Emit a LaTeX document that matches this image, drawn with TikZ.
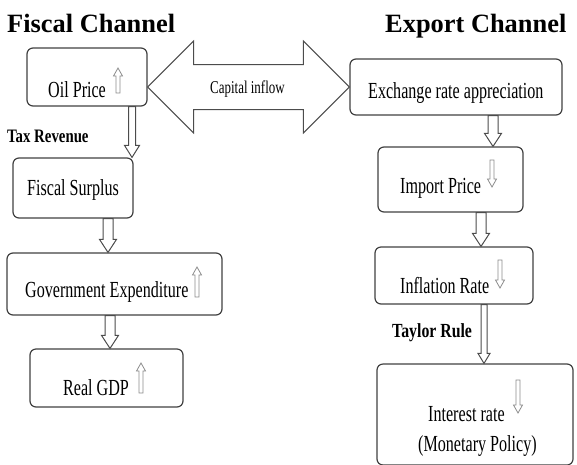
\documentclass[tikz,border=0pt]{standalone}
\usepackage{fontspec}
\setmainfont{Liberation Serif}
\usetikzlibrary{calc}
\newcommand{\bt}[1]{\fontsize{23}{27}\selectfont\scalebox{0.7}[1]{#1}}
\newcommand{\blockarrow}[5]{%
  \draw[blockar] let \p1=(#1), \p2=(#2) in
  (\x1-#3pt,\y1) -- (\x1+#3pt,\y1) -- (\x1+#3pt,\y2+#5pt) -- (\x1+#4pt,\y2+#5pt)
  -- (\x1,\y2) -- (\x1-#4pt,\y2+#5pt) -- (\x1-#3pt,\y2+#5pt) -- cycle;}
\newcommand{\upind}[3]{% x, ytop, ybottom
  \draw[indic] ({#1-2},#3) -- ({#1+2},#3) -- ({#1+2},{#2+8}) -- ({#1+4.5},{#2+8})
  -- (#1,#2) -- ({#1-4.5},{#2+8}) -- ({#1-2},{#2+8}) -- cycle;}
\newcommand{\downind}[3]{% x, ytop, ybottom
  \draw[indic] ({#1-2},#2) -- ({#1+2},#2) -- ({#1+2},{#3-8}) -- ({#1+4.5},{#3-8})
  -- (#1,#3) -- ({#1-4.5},{#3-8}) -- ({#1-2},{#3-8}) -- cycle;}
\tikzset{
  rbox/.style={draw=black!75, line width=1.2pt, rounded corners=6pt, inner sep=0pt},
  blockar/.style={draw=black!70, line width=1pt, fill=white, line join=miter},
  indic/.style={draw=black!45, line width=0.8pt, fill=white},
  lab/.style={anchor=base west, inner sep=0pt},
  head/.style={anchor=base west, inner sep=0pt, font=\fontsize{26.4}{30}\selectfont\bfseries},
}
\begin{document}
\begin{tikzpicture}[x=1pt,y=-1pt]
\useasboundingbox (0,0) rectangle (577,464);
\clip (0,0) rectangle (577,464);
% headings
\node[head] (hf) at (7,32) {Fiscal Channel};
\node[head] (he) at (385,32) {Export Channel};
% boxes
\node[rbox, minimum width=120pt, minimum height=58pt] (oil) at (87,77) {};
\node[rbox, minimum width=120pt, minimum height=60pt] (fiscal) at (73,188) {};
\node[rbox, minimum width=215pt, minimum height=62pt] (gov) at (114.5,284) {};
\node[rbox, minimum width=153pt, minimum height=58pt] (gdp) at (106.5,378) {};
\node[rbox, minimum width=212pt, minimum height=56pt] (exch) at (456,87) {};
\node[rbox, minimum width=145pt, minimum height=65pt] (imp) at (450.5,179.5) {};
\node[rbox, minimum width=158pt, minimum height=57pt] (infl) at (454,275.5) {};
\node[rbox, minimum width=196pt, minimum height=101pt] (intr) at (475,414.5) {};
% box texts
\node[lab] (toil) at (48,97) {\bt{Oil Price}};
\node[lab] (tfis) at (27,195) {\bt{Fiscal Surplus}};
\node[lab] (tgov) at (25,297) {\bt{Government Expenditure}};
\node[lab] (tgdp) at (63,395) {\bt{Real GDP}};
\node[lab] (texc) at (368,98) {\bt{Exchange rate appreciation}};
\node[lab] (timp) at (400,193) {\bt{Import Price}};
\node[lab] (tinf) at (400,293) {\bt{Inflation Rate}};
\node[lab] (tint) at (428,421) {\bt{Interest rate}};
\node[lab] (tmon) at (418,451) {\bt{(Monetary Policy)}};
% capital inflow double arrow
\draw[blockar] let \p1=(oil.east), \p2=(exch.west) in
  (\x1,\y2) -- (\x1+46pt,\y2+46pt) -- (\x1+46pt,\y2+22.5pt) -- (\x2-46pt,\y2+22.5pt)
  -- (\x2-46pt,\y2+46pt) -- (\x2,\y2) -- (\x2-46pt,\y2-46pt) -- (\x2-46pt,\y2-22.5pt)
  -- (\x1+46pt,\y2-22.5pt) -- (\x1+46pt,\y2-46pt) -- cycle;
\node[lab] (tcap) at (210,93) {\fontsize{18}{21}\selectfont\scalebox{0.72}[1]{Capital inflow}};
% connector x positions
\coordinate (a1) at (132,0);
\coordinate (a2) at (108,0);
\coordinate (a3) at (110,0);
\coordinate (b1) at (493,0);
\coordinate (b2) at (481,0);
\coordinate (b3) at (484,0);
\blockarrow{oil.south -| a1}{fiscal.north -| a1}{3.5}{7.5}{12}
\blockarrow{fiscal.south -| a2}{gov.north -| a2}{5}{8.5}{13}
\blockarrow{gov.south -| a3}{gdp.north -| a3}{5}{8.5}{13}
\blockarrow{exch.south -| b1}{imp.north -| b1}{5}{8.5}{13}
\blockarrow{imp.south -| b2}{infl.north -| b2}{5}{8.5}{13}
\blockarrow{infl.south -| b3}{intr.north -| b3}{3}{6}{10}
\node[lab] (ttax) at (7,142) {\fontsize{19}{22}\selectfont\bfseries\scalebox{0.78}[1]{Tax Revenue}};
\node[lab] (ttay) at (392,337) {\fontsize{20}{23}\selectfont\bfseries\scalebox{0.79}[1]{Taylor Rule}};
% indicator arrows
\upind{118}{68}{93}
\upind{197}{267}{297}
\upind{141}{363}{393}
\downind{492}{160}{187}
\downind{500}{260}{288}
\downind{518}{380}{413}
\end{tikzpicture}
\end{document}
